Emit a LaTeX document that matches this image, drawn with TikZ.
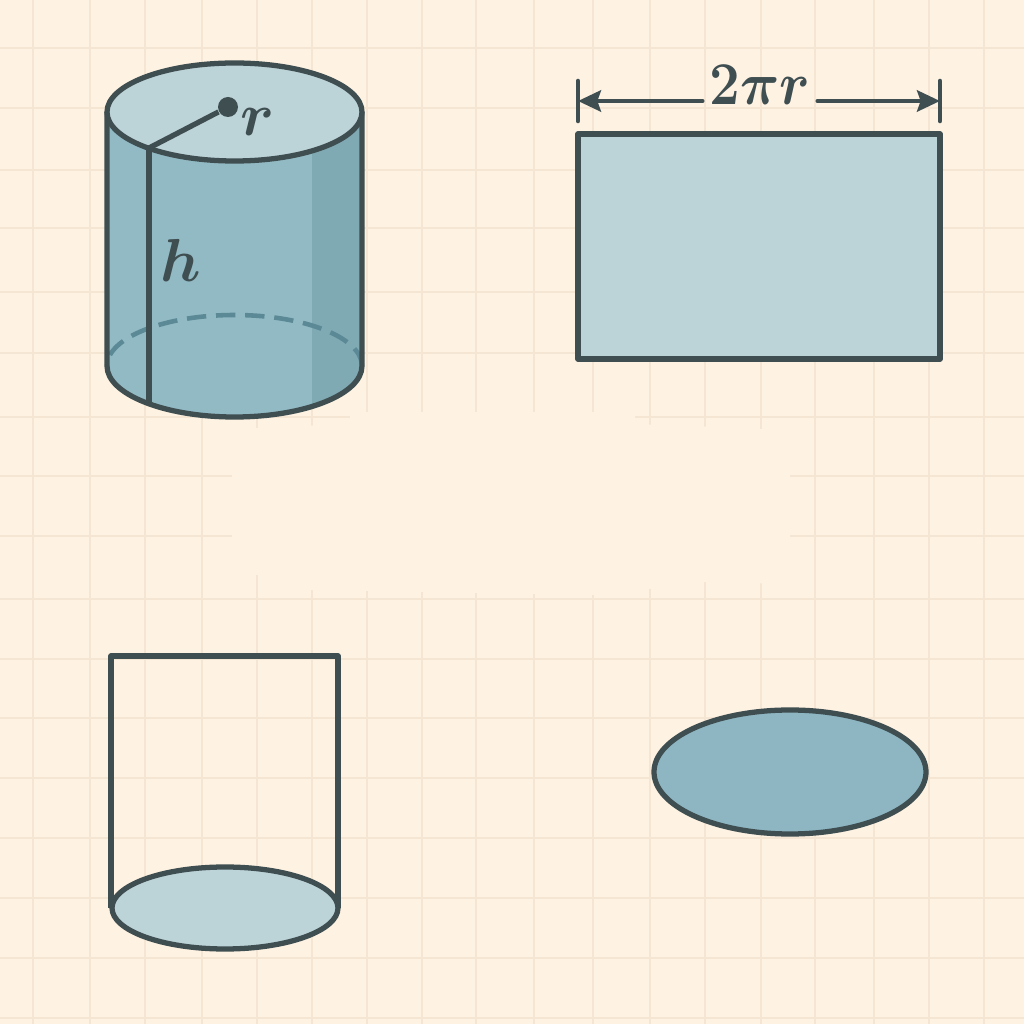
\documentclass[tikz,border=0pt]{standalone}
\usepackage{amsmath,amssymb}
\usepackage{xcolor}
\usetikzlibrary{arrows.meta}
\definecolor{paper}{HTML}{FEF2E3}
\definecolor{gridline}{HTML}{F5E5D3}
\definecolor{inkline}{HTML}{3F4E51}
\definecolor{lightface}{HTML}{BCD3D8}
\definecolor{bodyface}{HTML}{92BAC4}
\definecolor{shadeface}{HTML}{7FA9B3}
\definecolor{discface}{HTML}{8DB6C2}
\definecolor{hiddenline}{HTML}{5C8996}
\tikzset{
    outline/.style={draw=inkline, line width=1.5pt, line join=round},
    gridrule/.style={draw=gridline, line width=0.7pt},
    letter/.style={text=inkline, inner sep=0pt, anchor=base, font=\fontsize{18}{20}\selectfont},
    dimline/.style={draw=inkline, line width=1.3pt, line cap=round},
}
\begin{document}
\begin{tikzpicture}
        \path[use as bounding box, fill=paper] (0,0) rectangle (10.24,10.24);

        % paper grid
        \foreach \u in {.33,.90,1.45,2.02,2.57,3.12,3.67,4.22,4.76,5.34,5.93,6.50,7.05,7.61,8.15,8.74,9.29,9.84}
        {
            \draw[gridrule] (\u,0) -- (\u,10.24);
        }
        \foreach \v in {9.76,9.16,8.54,7.96,7.32,6.71,6.07,5.48,4.88,4.25,3.65,3.06,2.46,1.86,1.26,.66,.06}
        {
            \draw[gridrule] (0,\v) -- (10.24,\v);
        }
        \fill[paper]
        (3.5,6.12) -- (6.35,6.12) -- (6.35,6.0) -- (7.9,5.94) -- (7.9,4.4) -- (7.05,4.42)
        -- (6.0,4.29) -- (3.12,4.34) -- (2.57,4.49) -- (2.32,4.55) -- (2.32,5.95) -- (3.5,6.0) -- cycle;

        % cylinder
        \fill[bodyface]
        (1.07,9.12) -- (1.07,6.58) arc[start angle=180, end angle=360, x radius=1.275, y radius=.51]
        -- (3.62,9.12) arc[start angle=0, end angle=-180, x radius=1.275, y radius=.49] -- cycle;

        \begin{scope}
            \clip (3.12,9) rectangle (3.7,5.9);
            \fill[shadeface]
            (1.07,9.12) -- (1.07,6.58) arc[start angle=180, end angle=360, x radius=1.275, y radius=.51]
            -- (3.62,9.12) arc[start angle=0, end angle=-180, x radius=1.275, y radius=.49] -- cycle;
        \end{scope}

        \draw[draw=hiddenline, line width=1.3pt, dash pattern=on 5.5pt off 2.8pt]
        (3.62,6.58) arc[start angle=0, end angle=180, x radius=1.275, y radius=.51];

        \draw[outline]
        (1.07,9.12) -- (1.07,6.58) arc[start angle=180, end angle=360, x radius=1.275, y radius=.51]
        -- (3.62,9.12);

        \draw[outline, fill=lightface] (2.345,9.12) circle[x radius=1.275, y radius=.49];

        \coordinate (seamtop) at (1.49,8.76);
        \coordinate (seambot) at (1.49,6.20);
        \draw[outline] (seamtop) -- (seambot);

        \node[circle, fill=inkline, inner sep=0pt, minimum size=2mm] (hub) at (2.28,9.17) {};
        \draw[outline] (seamtop) -- (hub);

        \node[letter] (rlabel) at (2.58,8.88) {$\boldsymbol{r}$};
        \node[letter] (hlabel) at (1.81,7.42) {$\boldsymbol{h}$};

        % unrolled side
        \draw[outline, fill=lightface] (5.78,8.90) rectangle (9.40,6.65);

        \coordinate (dimleft) at (5.78,9.23);
        \coordinate (dimright) at (9.40,9.23);
        \node[letter, minimum width=1.14cm] (dimlab) at (7.60,9.19) {\scalebox{.9}[1]{$\boldsymbol{2\pi r}$}};

        \draw[dimline] (5.78,9.43) -- (5.78,9.03);
        \draw[dimline] (9.40,9.43) -- (9.40,9.03);
        \draw[dimline, -{Stealth[length=6.5pt, width=6pt, inset=1pt]}] (dimlab.west |- dimleft) -- (dimleft);
        \draw[dimline, -{Stealth[length=6.5pt, width=6pt, inset=1pt]}] (dimlab.east |- dimright) -- (dimright);

        % open side with base
        \draw[outline] (1.11,1.16) -- (1.11,3.68) -- (3.38,3.68) -- (3.38,1.16);
        \draw[outline, fill=lightface] (2.25,1.16) circle[x radius=1.13, y radius=.41];

        % loose disc
        \draw[outline, fill=discface] (7.90,2.52) circle[x radius=1.36, y radius=.62];
\end{tikzpicture}
\end{document}
